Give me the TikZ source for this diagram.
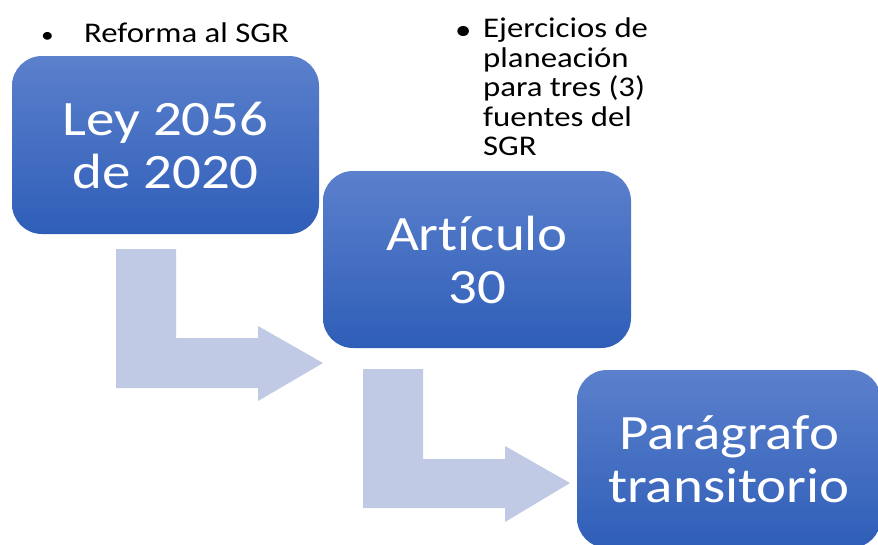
\documentclass[tikz,border=0pt]{standalone}
\usepackage{fontspec}
\setmainfont{Carlito}
\newfontfamily\anchaFont[FakeStretch=1.15, Ligatures=NoCommon]{Carlito}
\definecolor{cajaArriba}{HTML}{5B80CC}
\definecolor{cajaAbajo}{HTML}{2F5EB8}
\definecolor{flechaClara}{HTML}{C0CAE4}
\tikzset{
  paso/.style={rounded corners=30pt, top color=cajaArriba, bottom color=cajaAbajo, text=white, align=center, inner sep=0pt, font=\anchaFont\fontsize{49.5}{53}\selectfont},
  flecha/.style={fill=flechaClara, draw=none},
  nota/.style={inner sep=0pt, align=left, font=\anchaFont\fontsize{28.5}{29.5}\selectfont}
}
\begin{document}
\begin{tikzpicture}[x=1pt, y=-1pt]
    \useasboundingbox (0, 0) rectangle (878, 544);
    \fill [flecha] (116, 249) -- (176, 249) -- (176, 338) -- (258, 338) -- (258, 326) -- (323, 363) -- (258, 401) -- (258, 388) -- (116, 388) -- cycle;
    \fill [flecha] (363, 369) -- (423, 369) -- (423, 459) -- (505, 459) -- (505, 446) -- (570, 483) -- (505, 522) -- (505, 508) -- (363, 508) -- cycle;
    \node [paso, minimum width=307pt, minimum height=178pt] (ley) at (165.5, 145) {Ley 2056\\de 2020};
    \node [paso, minimum width=308pt, minimum height=177pt] (art) at (477, 259.5) {Artículo\\30};
    \node [paso, minimum width=304pt, minimum height=178pt] (par) at (729, 459) {Parágrafo\\transitorio};
    \node [nota, anchor=base west, font=\anchaFont\fontsize{22}{24}\selectfont] (punto1) at (41, 42) {•};
    \node [nota, anchor=base west] (reforma) at (84, 42) {Reforma al SGR};
    \node [nota, anchor=base west] (punto2) at (455, 39) {•};
    \node [nota, anchor=north west] (ejercicios) at (483, 18) {Ejercicios de\\planeación\\para tres (3)\\fuentes del\\SGR};
  \end{tikzpicture}
\end{document}
